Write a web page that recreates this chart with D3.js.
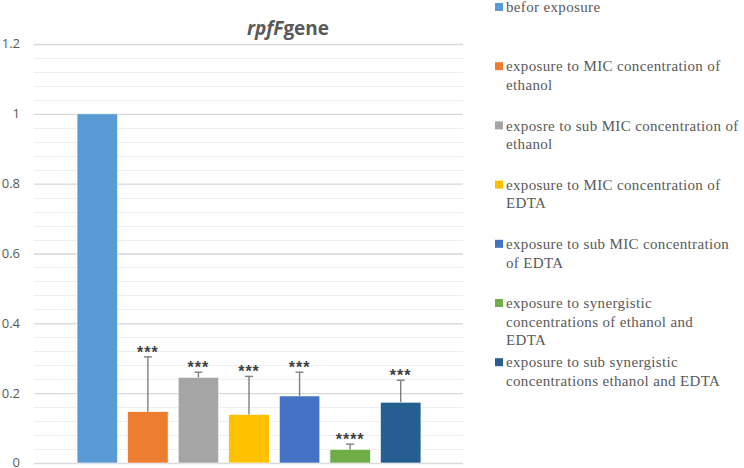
<!DOCTYPE html>
<html>
<head>
<meta charset="utf-8">
<script src="https://cdn.jsdelivr.net/npm/d3@7"></script>
<style>
  body { margin: 0; background: #fff; }
</style>
</head>
<body>
<div class="chart"></div>
<script>
// data
var seriesNames = [
  "befor exposure",
  "exposure to MIC concentration of|ethanol",
  "exposre to sub MIC concentration of|ethanol",
  "exposure to MIC concentration of|EDTA",
  "exposure to sub MIC concentration|of EDTA",
  "exposure to synergistic|concentrations of ethanol and|EDTA",
  "exposure to sub synergistic|concentrations ethanol and EDTA"
];
var values = [1.0, 0.147, 0.245, 0.139, 0.192, 0.039, 0.174];
var errors = [0, 0.157, 0.015, 0.109, 0.068, 0.015, 0.063];
var stars = ["", "***", "***", "***", "***", "****", "***"];
var yTicks = [0, 0.2, 0.4, 0.6, 0.8, 1, 1.2];

var colors = ["#5B9BD5", "#ED7D31", "#A5A5A5", "#FFC000", "#4472C4", "#70AD47", "#255E91"];

var svgWidth = 744;
var svgHeight = 468;

var plot = { left: 34, right: 463, top: 44, bottom: 463 };

var svg = d3.select(".chart")
  .append("svg")
  .attr("width", svgWidth)
  .attr("height", svgHeight);

var yScale = d3.scaleLinear()
  .domain([0, 1.2])
  .range([plot.bottom, plot.top]);

var xScale = d3.scaleBand()
  .domain(d3.range(values.length))
  .range([72, 426])
  .paddingInner(0.2)
  .paddingOuter(0.1);

// minor gridlines
var minor = d3.range(0, 1.2001, 0.04);
svg.append("g").selectAll("line")
  .data(minor)
  .enter()
  .append("line")
  .attr("x1", plot.left)
  .attr("x2", plot.right)
  .attr("y1", d => Math.round(yScale(d)) + 0.5)
  .attr("y2", d => Math.round(yScale(d)) + 0.5)
  .attr("stroke", "#eeeeee")
  .attr("stroke-width", 1);

// major gridlines + axis labels
var leftAxis = d3.axisLeft(yScale)
  .tickValues(yTicks)
  .tickSize(plot.left - plot.right)
  .tickPadding(14)
  .tickFormat(d3.format("~g"));

var yAxis = svg.append("g")
  .attr("transform", `translate(${plot.left}, 0)`)
  .call(leftAxis);
yAxis.select(".domain").remove();
yAxis.selectAll(".tick line")
  .attr("stroke", "#d9d9d9")
  .attr("stroke-width", 1.3);
yAxis.selectAll(".tick text")
  .attr("fill", "#595959")
  .attr("dy", "0.3em")
  .style("font-family", "'Open Sans', sans-serif")
  .style("font-size", "13px");

// bars
svg.append("g").selectAll("rect")
  .data(values)
  .enter()
  .append("rect")
  .attr("x", (d, i) => xScale(i))
  .attr("y", d => yScale(d))
  .attr("width", xScale.bandwidth())
  .attr("height", d => yScale(0) - yScale(d))
  .attr("fill", (d, i) => colors[i])
  .attr("stroke", "#fff")
  .attr("stroke-width", 0.6);

// error bars (upper only)
var errGroup = svg.append("g")
  .attr("stroke", "#7f7f7f")
  .attr("stroke-width", 1.4);
values.forEach(function(v, i) {
  if (!errors[i]) return;
  var cx = xScale(i) + xScale.bandwidth() / 2;
  errGroup.append("line")
    .attr("x1", cx).attr("x2", cx)
    .attr("y1", yScale(v)).attr("y2", yScale(v + errors[i]));
  errGroup.append("line")
    .attr("x1", cx - 4).attr("x2", cx + 4)
    .attr("y1", yScale(v + errors[i])).attr("y2", yScale(v + errors[i]));
});

// significance stars
svg.append("g").selectAll("text")
  .data(values)
  .enter()
  .append("text")
  .attr("x", (d, i) => xScale(i) + xScale.bandwidth() / 2)
  .attr("y", (d, i) => yScale(d + errors[i]) + 1)
  .attr("text-anchor", "middle")
  .attr("fill", "#404040")
  .style("font-family", "'Liberation Sans', sans-serif")
  .style("font-size", "16px")
  .style("font-weight", "bold")
  .style("letter-spacing", "1px")
  .text((d, i) => stars[i]);

// title
var title = svg.append("text")
  .attr("x", 288)
  .attr("y", 35)
  .attr("text-anchor", "middle")
  .attr("fill", "#595959")
  .style("font-family", "'Open Sans', sans-serif")
  .style("font-size", "19px")
  .style("font-weight", "bold");
title.append("tspan").style("font-style", "italic").text("rpfF");
title.append("tspan").text("gene");

// legend
var legend = svg.append("g")
  .attr("transform", "translate(495, 7)");
seriesNames.forEach(function(name, i) {
  var g = legend.append("g")
    .attr("transform", `translate(0, ${i * 59.2})`);
  g.append("rect")
    .attr("x", 0)
    .attr("y", -4)
    .attr("width", 8)
    .attr("height", 8)
    .attr("fill", colors[i]);
  var t = g.append("text")
    .attr("x", 11)
    .attr("y", 0)
    .attr("fill", "#595959")
    .style("font-family", "'Liberation Serif', serif")
    .style("font-size", "15px")
    .style("letter-spacing", "0.35px");
  name.split("|").forEach(function(line, j) {
    t.append("tspan")
      .attr("x", 11)
      .attr("y", j * 18.5)
      .attr("dy", "0.35em")
      .text(line);
  });
});
</script>
</body>
</html>
